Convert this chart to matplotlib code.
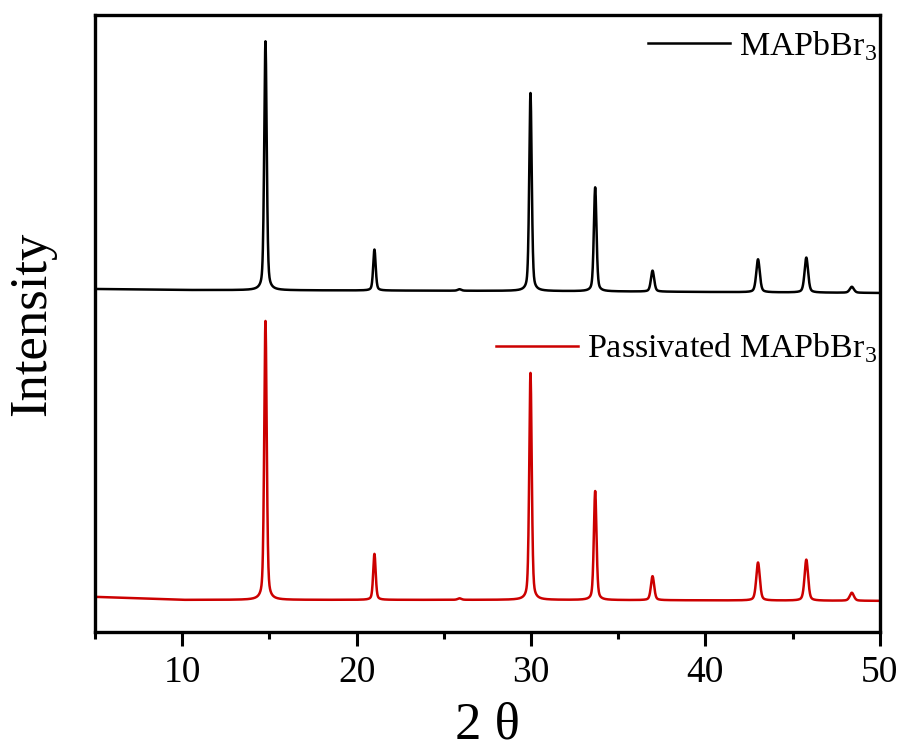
import numpy as np
import matplotlib
matplotlib.use("Agg")
import matplotlib.pyplot as plt
from matplotlib.ticker import MultipleLocator

# ---- data ----
peak_pos = [14.77, 21.02, 25.9, 29.97, 33.68, 36.97, 43.02, 45.79, 48.40]
peak_fwhm = [0.17, 0.17, 0.25, 0.17, 0.18, 0.22, 0.24, 0.24, 0.28]
pristine_heights = [249, 41, 1.5, 198, 104, 21, 33, 35, 6]
passivated_heights = [279, 46, 1.5, 227, 109, 24, 38, 41, 8]
baseline_x = [5, 10, 30, 50]
pristine_baseline = [343, 342, 341, 339]
passivated_baseline = [35, 32, 32, 31]
labels = ["MAPbBr$_3$", "Passivated MAPbBr$_3$"]
colors = ["#000000", "#cc0000"]

plt.rcParams['font.family'] = ['Liberation Serif', 'DejaVu Serif']
plt.rcParams['mathtext.fontset'] = 'custom'
plt.rcParams['mathtext.rm'] = 'Liberation Serif'

two_theta = np.linspace(5, 50, 4501)


def pattern(heights, base):
    y = np.interp(two_theta, baseline_x, base).astype(float)
    for p, w, h in zip(peak_pos, peak_fwhm, heights):
        g = np.exp(-4 * np.log(2) * ((two_theta - p) / w) ** 2)
        l = 1.0 / (1 + 4 * ((two_theta - p) / w) ** 2)
        y += h * (0.6 * g + 0.4 * l)
    return y


fig = plt.figure(figsize=(9.06, 7.54), dpi=100)
ax = fig.add_axes([0.105, 0.162, 0.866, 0.818])

l1, = ax.plot(two_theta, pattern(pristine_heights, pristine_baseline), color=colors[0], lw=1.8)
l2, = ax.plot(two_theta, pattern(passivated_heights, passivated_baseline), color=colors[1], lw=1.8)

ax.set_xlim(5, 50)
ax.set_ylim(0, 617)
ax.xaxis.set_major_locator(MultipleLocator(10))
ax.xaxis.set_minor_locator(MultipleLocator(5))
ax.set_yticks([])
ax.tick_params(axis='x', which='major', direction='out', length=10, width=2.2,
               labelsize=27, pad=7)
ax.tick_params(axis='x', which='minor', direction='out', length=5, width=2.2)
for s in ax.spines.values():
    s.set_linewidth(2.4)

ax.set_xlabel("2 θ", fontsize=38, labelpad=8)
ax.set_ylabel("Intensity", fontsize=38, labelpad=28)

leg1 = ax.legend([l1], [labels[0]], loc='upper right', frameon=False,
                 fontsize=24.5, handlelength=2.4, handletextpad=0.25,
                 bbox_to_anchor=(1.022, 1.01), borderaxespad=0.2)
ax.add_artist(leg1)
ax.legend([l2], [labels[1]], loc='upper right', frameon=False,
          fontsize=24.5, handlelength=2.4, handletextpad=0.25,
          bbox_to_anchor=(1.022, 0.52), borderaxespad=0.2)

fig.savefig("out.png", dpi=100)
